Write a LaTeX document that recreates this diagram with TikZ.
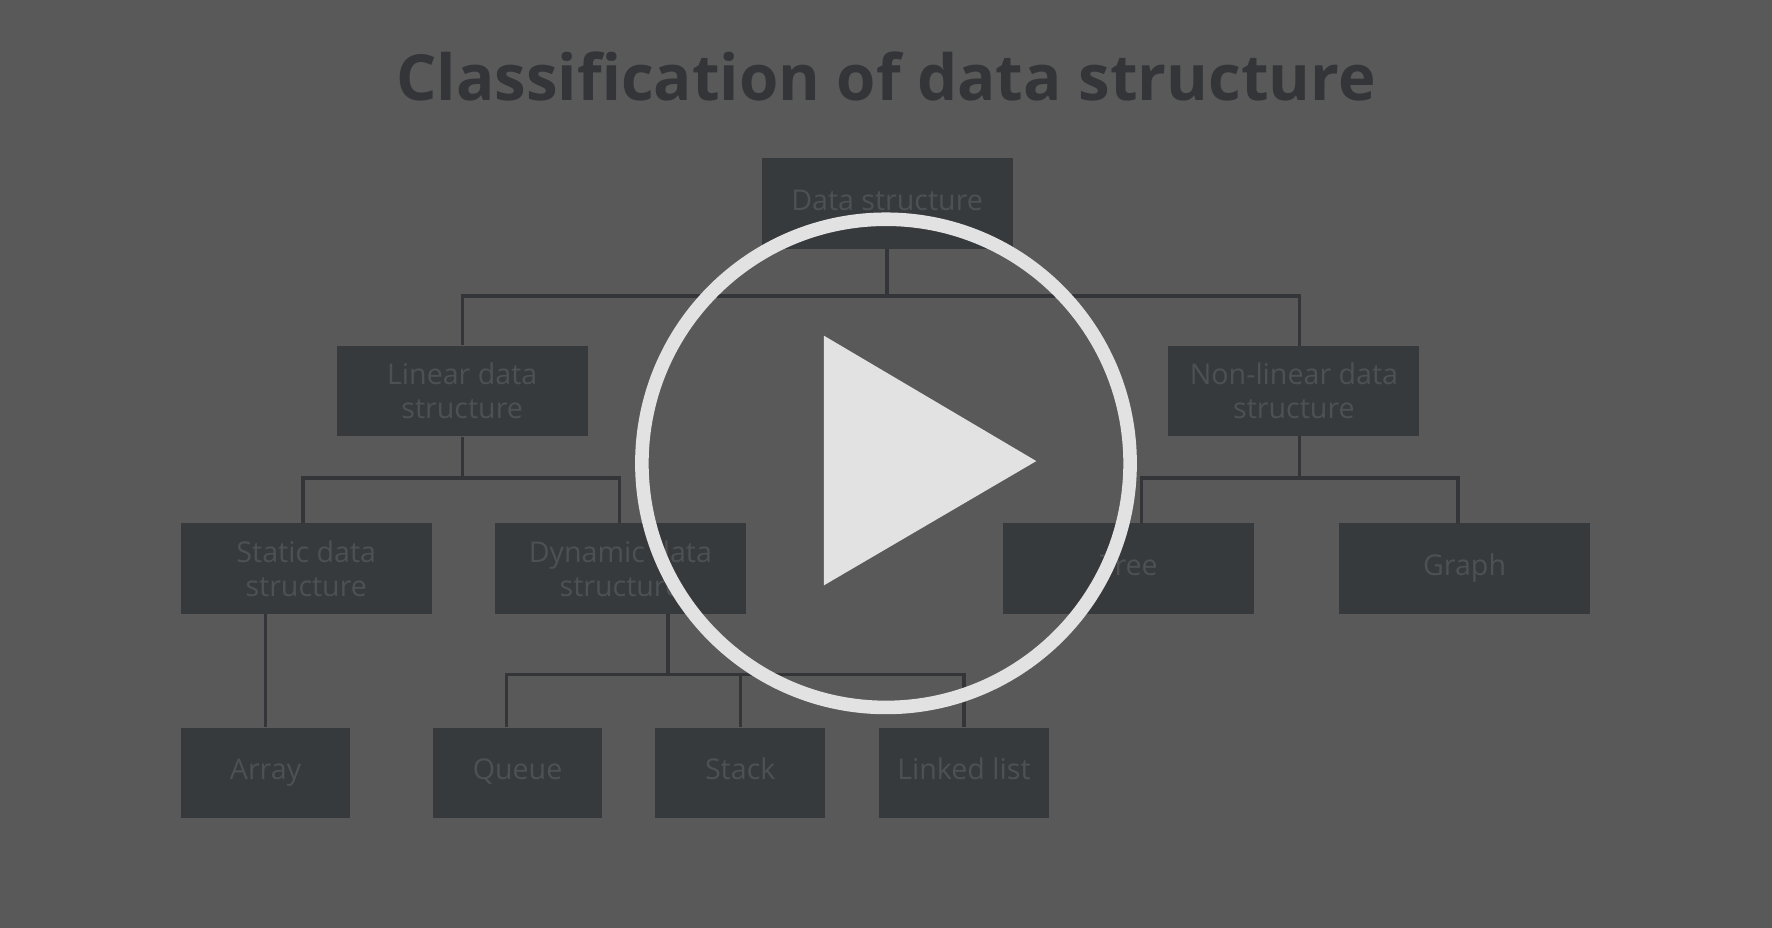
\documentclass[tikz,border=0pt]{standalone}
\usepackage{fontspec}
\setmainfont{Open Sans}
\usetikzlibrary{calc}
\definecolor{bgcol}{HTML}{595959}
\definecolor{boxcol}{HTML}{373A3D}
\definecolor{txtcol}{HTML}{4D5153}
\definecolor{linecol}{HTML}{333538}
\definecolor{playcol}{HTML}{E2E2E2}
\tikzset{
  dsbox/.style={fill=boxcol,text=txtcol,minimum width=2.22cm,minimum height=0.8cm,
    align=center,font=\fontsize{7.2}{8.6}\selectfont,inner sep=0pt},
  leafbox/.style={dsbox,minimum width=1.5cm},
  link/.style={linecol,line width=0.85pt}
}
\begin{document}
\begin{tikzpicture}[x=0.01cm,y=-0.01cm]
\fill[bgcol] (0,0) rectangle (1568,821);
\useasboundingbox (0,0) rectangle (1568,821);

\node[text=linecol,font=\fontsize{16}{19}\selectfont\bfseries] (title) at (784,68) {Classification of data structure};

% levels
\node[dsbox] (ds) at (785,180) {\strut Data structure};
\node[dsbox] (lin) at (409,346) {Linear data\\structure};
\node[dsbox] (nonlin) at (1145,346) {Non-linear data\\structure};
\node[dsbox] (static) at (271,503) {Static data\\structure};
\node[dsbox] (dyn) at (549,503) {Dynamic data\\structure};
\node[dsbox] (tree) at (999,503) {\strut Tree};
\node[dsbox] (graph) at (1296,503) {\strut Graph};
\node[leafbox] (array) at (235,684) {\strut Array};
\node[leafbox] (queue) at (458,684) {\strut Queue};
\node[leafbox] (stack) at (655,684) {\strut Stack};
\node[leafbox] (llist) at (853,684) {\strut Linked list};

% connectors
\coordinate (j1) at (785,262);
\coordinate (j2) at (409,423);
\coordinate (j3) at (1150,423);
\coordinate (j4) at (591,597);
\draw[link] (ds.south) -- (j1) -| (lin.north);
\draw[link] (j1) -| (1150,306);
\draw[link] (lin.south) -- (j2) -| (268,463);
\draw[link] (j2) -| (548,463);
\draw[link] (1150,386) -- (j3) -| (1010,463);
\draw[link] (j3) -| (1290,463);
\draw[link] (235,543) -- (array.north);
\draw[link] (591,543) -- (j4) -| (448,643);
\draw[link] (j4) -| (stack.north);
\draw[link] (j4) -| (llist.north);

% play button
\draw[playcol,line width=0.12cm] (784,410) circle (216);
\fill[playcol] (729,297) -- (917,408) -- (729,518) -- cycle;
\end{tikzpicture}
\end{document}
